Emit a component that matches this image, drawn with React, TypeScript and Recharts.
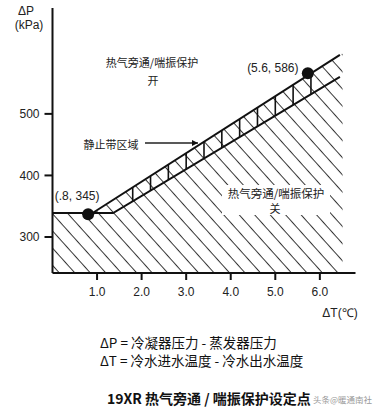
import {
  ComposedChart,
  Area,
  Line,
  Scatter,
  XAxis,
  YAxis,
  ReferenceLine,
} from "recharts";

// ─── data ────────────────────────────────────────────────

// upper edge of the hatched "off" region: flat step, then the upper band line
const upperEdge = [
  { dt: 0, dp: 339 },
  { dt: 0.9, dp: 339 },
  { dt: 6.45, dp: 596 },
  { dt: 6.51, dp: 598 },
];
// the drawn upper band line
const upperLine = [
  { dt: 0.9, dp: 339 },
  { dt: 6.45, dp: 596 },
];
// horizontal step + lower band line
const lowerLine = [
  { dt: 0, dp: 339 },
  { dt: 1.36, dp: 339 },
  { dt: 6.45, dp: 560 },
];
// set points (drawn position / printed label)
const setPoints = [
  { dt: 0.8, dp: 337, label: "(.8, 345)" },
  { dt: 5.73, dp: 566, label: "(5.6, 586)" },
];
// vertical strokes inside the dead band
const bandTicks = [1.8, 2.2, 2.6, 3.0, 3.4, 3.8, 4.2, 4.6, 5.0, 5.4, 5.8];

const xTicks = [1, 2, 3, 4, 5, 6];
const yTicks = [300, 400, 500];

const W = 377;
const H = 416;
const CJK = '"Noto Sans CJK SC", "Noto Sans", sans-serif';
const LATIN = '"Liberation Sans", Arial, sans-serif';

// read a polyline at a given x
function lineAt(pts: { dt: number; dp: number }[], x: number) {
  for (let i = 1; i < pts.length; i++) {
    const a = pts[i - 1];
    const b = pts[i];
    if (x >= a.dt && x <= b.dt) {
      return a.dp + ((x - a.dt) / (b.dt - a.dt)) * (b.dp - a.dp);
    }
  }
  return pts[pts.length - 1].dp;
}

interface DotProps {
  cx?: number;
  cy?: number;
  payload?: { label: string };
}

function SetPointDot({ cx, cy, payload }: DotProps) {
  if (cx === undefined || cy === undefined || !payload) return <g />;
  const first = payload.label.startsWith("(.8");
  return (
    <g>
      <circle cx={cx} cy={cy} r={6} fill="#111" />
      <text
        x={first ? cx - 11 : cx - 35}
        y={first ? cy - 18 : cy - 5}
        textAnchor="middle"
        dominantBaseline="central"
        fontSize={12}
        fontFamily={LATIN}
        fill="#222"
      >
        {payload.label}
      </text>
    </g>
  );
}

export default function App() {
  return (
    <div
      style={{
        position: "absolute",
        left: 0,
        top: 0,
        width: W,
        height: H,
        background: "#fff",
      }}
    >
      <ComposedChart
        width={W}
        height={300}
        margin={{ top: 8, right: 21.5, left: 0, bottom: 0 }}
      >
        <defs>
          <pattern
            id="hatch"
            patternUnits="userSpaceOnUse"
            width={12}
            height={11.5}
            patternTransform="rotate(48)"
          >
            <line x1={0} y1={0.5} x2={12} y2={0.5} stroke="#333" strokeWidth={1} />
          </pattern>
        </defs>
        <XAxis
          type="number"
          dataKey="dt"
          domain={[0, 6.8]}
          ticks={xTicks}
          tickFormatter={(v: number) => v.toFixed(1)}
          height={27}
          tickSize={7}
          tickMargin={7}
          stroke="#111"
          strokeWidth={2}
          tick={{ fontSize: 12, fill: "#222", fontFamily: LATIN }}
          allowDataOverflow
        />
        <YAxis
          type="number"
          dataKey="dp"
          domain={[241.5, 672]}
          ticks={yTicks}
          width={52.5}
          tickSize={8}
          tickMargin={5}
          stroke="#111"
          strokeWidth={2}
          tick={{ fontSize: 12, fill: "#222", fontFamily: LATIN }}
          allowDataOverflow
        />
        <Area
          data={upperEdge}
          dataKey="dp"
          type="linear"
          stroke="none"
          fill="url(#hatch)"
          fillOpacity={1}
          baseValue={241.5}
          isAnimationActive={false}
          dot={false}
          activeDot={false}
        />
        {bandTicks.map((x) => (
          <ReferenceLine
            key={x}
            segment={[
              { x, y: lineAt(lowerLine, x) },
              { x, y: lineAt(upperLine, x) },
            ]}
            stroke="#111"
            strokeWidth={1.6}
          />
        ))}
        <Line
          data={lowerLine}
          dataKey="dp"
          type="linear"
          stroke="#111"
          strokeWidth={2}
          dot={false}
          activeDot={false}
          isAnimationActive={false}
        />
        <Line
          data={upperLine}
          dataKey="dp"
          type="linear"
          stroke="#111"
          strokeWidth={2}
          dot={false}
          activeDot={false}
          isAnimationActive={false}
        />
        <Scatter
          data={setPoints}
          dataKey="dp"
          shape={(p: DotProps) => <SetPointDot {...p} />}
          isAnimationActive={false}
        />
      </ComposedChart>

      <svg
        width={W}
        height={H}
        style={{ position: "absolute", left: 0, top: 0, pointerEvents: "none" }}
      >
        <defs>
          <marker
            id="arrow"
            viewBox="0 0 10 10"
            refX={10}
            refY={5}
            markerWidth={5}
            markerHeight={5}
            orient="auto"
            markerUnits="strokeWidth"
          >
            <path d="M0,0 L10,5 L0,10 z" fill="#111" />
          </marker>
        </defs>
        <g fontFamily={LATIN} fill="#222" fontSize={12}>
          <text x={26} y={11} textAnchor="middle" dominantBaseline="central">
            ΔP
          </text>
          <text x={29} y={25} textAnchor="middle" dominantBaseline="central">
            (kPa)
          </text>
          <text x={340} y={313} textAnchor="middle" dominantBaseline="central">
            ΔT(℃)
          </text>
        </g>
        <g fontFamily={CJK} fill="#222" fontSize={11}>
          <text x={152} y={62} textAnchor="middle" dominantBaseline="central">
            热气旁通/喘振保护
          </text>
          <text x={153} y={80} textAnchor="middle" dominantBaseline="central">
            开
          </text>
          <text x={111} y={144} textAnchor="middle" dominantBaseline="central">
            静止带区域
          </text>
          <rect x={222} y={185} width={108} height={30} fill="#fff" />
          <text x={276} y={193} textAnchor="middle" dominantBaseline="central" fontSize={11.5}>
            热气旁通/喘振保护
          </text>
          <text x={275} y={208} textAnchor="middle" dominantBaseline="central">
            关
          </text>
        </g>
        <line
          x1={145}
          y1={143}
          x2={198}
          y2={143}
          stroke="#222"
          strokeWidth={1.3}
          markerEnd="url(#arrow)"
        />
        <g fontFamily={CJK} fill="#111" fontSize={13.5}>
          <text x={100} y={342} dominantBaseline="central">
            ΔP = 冷凝器压力 - 蒸发器压力
          </text>
          <text x={100} y={360} dominantBaseline="central">
            ΔT = 冷水进水温度 - 冷水出水温度
          </text>
          <text x={107} y={398} dominantBaseline="central" fontSize={14} fontWeight={600}>
            19XR 热气旁通 / 喘振保护设定点
          </text>
        </g>
        <text
          x={372}
          y={399}
          textAnchor="end"
          dominantBaseline="central"
          fontFamily={CJK}
          fontSize={8.5}
          fill="#999"
        >
          头条@暖通南社
        </text>
      </svg>
    </div>
  );
}
